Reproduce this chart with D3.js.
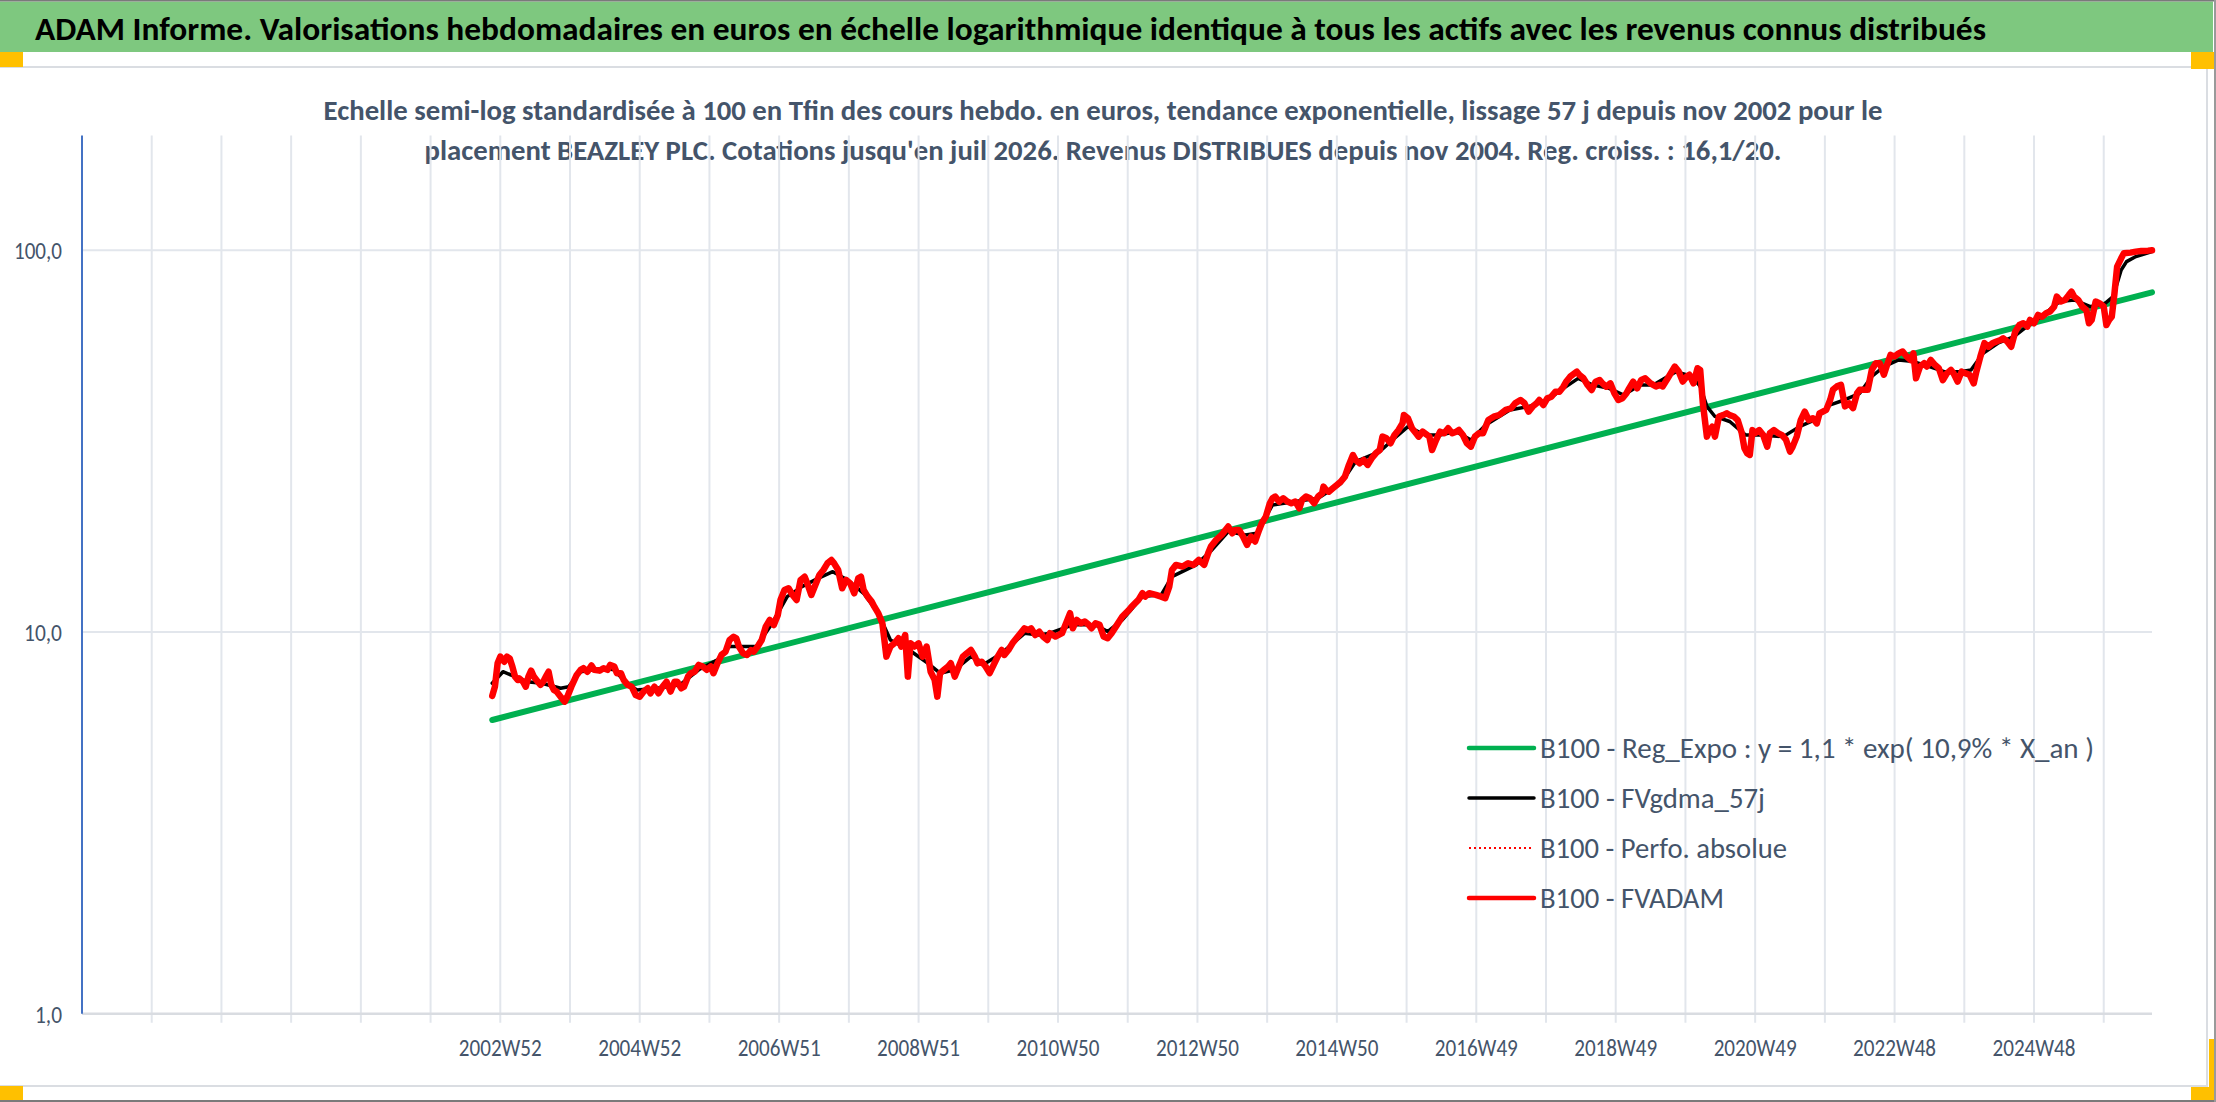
<!DOCTYPE html>
<html>
<head>
<meta charset="utf-8">
<script src="https://cdn.jsdelivr.net/npm/d3@7"></script>
<style>
  body { margin: 0; background: #fff; }
  svg { display: block; }
</style>
</head>
<body>
<script>
// ---- texts ----
const titleText = "ADAM Informe. Valorisations hebdomadaires en euros en échelle logarithmique identique à tous les actifs avec les revenus connus distribués";
const subtitleLines = [
  "Echelle semi-log standardisée à 100 en Tfin des cours hebdo. en euros, tendance exponentielle, lissage 57 j depuis nov 2002 pour le",
  "placement BEAZLEY PLC. Cotations jusqu'en juil 2026. Revenus DISTRIBUES depuis nov 2004. Reg. croiss. : 16,1/20."
];
const legendLabels = [
  "B100 - Reg_Expo : y = 1,1 * exp( 10,9% *  X_an )",
  "B100 - FVgdma_57j",
  "B100 - Perfo. absolue",
  "B100 - FVADAM"
];

// ---- axes ----
// categories are weeks, counted from the first category of the axis
const totalWeeks = 1544;
const weeksPerGrid = 52;
const firstLabelWeek = 312;
const weeksPerLabel = 104;
const xTickLabels = ["2002W52", "2004W52", "2006W51", "2008W51", "2010W50", "2012W50",
  "2014W50", "2016W49", "2018W49", "2020W49", "2022W48", "2024W48"];
const yTicks = [1, 10, 100];
const yTickLabels = ["1,0", "10,0", "100,0"];
const yMax = 200;

// ---- series ----
const regWeeks = [306, 1544];
const regValues = [5.88, 77.6];

const fvWeeks = [306, 308, 310, 312, 315, 317, 319, 321, 323, 325, 326, 329, 331, 333, 335, 337, 340, 342, 344, 346,
  348, 350, 352, 354, 357, 360, 362, 365, 369, 372, 374, 377, 380, 382, 386, 389, 392, 394, 397, 399,
  402, 404, 407, 410, 413, 416, 419, 422, 424, 427, 430, 433, 436, 439, 442, 444, 447, 449, 452, 454,
  457, 460, 463, 466, 469, 471, 474, 477, 480, 483, 486, 488, 490, 493, 496, 499, 501, 504, 507, 510,
  513, 516, 519, 521, 524, 527, 530, 533, 536, 539, 541, 544, 547, 550, 553, 556, 559, 561, 564, 567,
  570, 573, 576, 579, 581, 583, 586, 589, 591, 594, 597, 600, 603, 606, 609, 611, 614, 616, 618, 621,
  624, 627, 630, 633, 636, 638, 640, 643, 646, 648, 651, 654, 657, 660, 663, 666, 668, 671, 674, 677,
  680, 683, 686, 688, 691, 694, 697, 700, 703, 706, 708, 711, 714, 717, 720, 722, 726, 731, 735, 737,
  739, 742, 745, 748, 751, 753, 756, 759, 762, 765, 768, 772, 776, 781, 783, 788, 791, 793, 796, 801,
  805, 808, 811, 813, 816, 821, 825, 829, 833, 837, 840, 842, 846, 850, 855, 858, 860, 863, 866, 869,
  872, 875, 878, 880, 883, 886, 888, 890, 893, 896, 899, 902, 905, 908, 910, 913, 916, 919, 922, 925,
  926, 928, 930, 933, 936, 939, 942, 945, 948, 950, 953, 956, 959, 962, 965, 968, 970, 973, 976, 979,
  982, 985, 986, 989, 992, 995, 997, 1000, 1005, 1007, 1010, 1013, 1016, 1019, 1022, 1025, 1027, 1030, 1033, 1036,
  1039, 1042, 1045, 1049, 1053, 1057, 1062, 1066, 1069, 1073, 1076, 1079, 1082, 1085, 1087, 1090, 1093, 1096, 1099, 1102,
  1105, 1107, 1110, 1115, 1117, 1120, 1123, 1126, 1129, 1132, 1134, 1137, 1140, 1143, 1146, 1149, 1152, 1154, 1157, 1160,
  1163, 1166, 1170, 1172, 1174, 1177, 1179, 1182, 1185, 1188, 1191, 1194, 1197, 1199, 1202, 1205, 1207, 1209, 1212, 1214,
  1216, 1218, 1221, 1224, 1227, 1229, 1232, 1235, 1238, 1240, 1242, 1244, 1246, 1248, 1251, 1254, 1257, 1259, 1262, 1265,
  1268, 1271, 1274, 1276, 1279, 1282, 1285, 1288, 1291, 1294, 1296, 1301, 1304, 1306, 1309, 1312, 1315, 1318, 1321, 1324,
  1326, 1329, 1332, 1335, 1338, 1341, 1344, 1346, 1349, 1352, 1355, 1358, 1361, 1364, 1366, 1368, 1371, 1374, 1376, 1379,
  1382, 1385, 1388, 1391, 1394, 1396, 1399, 1402, 1405, 1408, 1411, 1413, 1416, 1419, 1422, 1425, 1428, 1431, 1433, 1436,
  1439, 1442, 1445, 1448, 1451, 1453, 1456, 1459, 1462, 1465, 1468, 1471, 1473, 1476, 1479, 1482, 1484, 1486, 1489, 1492,
  1495, 1497, 1499, 1502, 1505, 1508, 1510, 1512, 1514, 1516, 1518, 1521, 1523, 1528, 1532, 1536, 1541, 1544];
const fvValues = [6.80, 7.19, 8.28, 8.62, 8.36, 8.62, 8.53, 8.12, 7.64, 7.49, 7.56, 7.41, 7.19, 7.64, 7.92, 7.64, 7.41, 7.27, 7.41, 7.64,
  7.87, 7.27, 7.05, 6.98, 6.77, 6.57, 6.77, 7.19, 7.72, 7.96, 8.04, 7.87, 8.17, 7.96, 7.92, 8.04, 7.96, 8.20, 8.12, 7.80,
  7.80, 7.49, 7.27, 7.19, 6.84, 6.77, 6.98, 7.12, 6.91, 7.19, 6.91, 7.19, 7.41, 6.98, 7.41, 7.41, 7.12, 7.19, 7.64, 7.80,
  7.87, 8.20, 8.12, 7.96, 8.12, 7.80, 8.28, 8.71, 8.88, 9.53, 9.72, 9.63, 9.16, 8.80, 8.71, 8.97, 8.88, 9.16, 9.53, 10.33,
  10.75, 10.43, 11.08, 12.13, 12.89, 13.02, 12.50, 12.13, 13.69, 13.96, 13.41, 12.50, 13.28, 14.11, 14.54, 15.13, 15.44, 15.13, 14.54, 13.02,
  13.69, 13.41, 12.63, 13.82, 13.96, 12.89, 12.38, 12.01, 11.65, 11.19, 10.54, 8.62, 9.16, 9.34, 9.63, 9.16, 9.82, 7.64, 9.34, 9.16,
  9.34, 8.62, 9.16, 7.87, 7.49, 6.77, 7.80, 7.96, 8.12, 8.28, 7.64, 8.12, 8.62, 8.80, 8.97, 8.62, 8.28, 8.36, 8.12, 7.80,
  8.20, 8.62, 8.97, 8.71, 8.97, 9.34, 9.63, 9.92, 10.22, 10.12, 10.22, 9.82, 10.02, 9.72, 9.53, 9.93, 9.73, 9.93, 10.76, 11.20,
  10.23, 10.76, 10.54, 10.65, 10.44, 10.23, 10.54, 10.44, 9.73, 9.63, 9.93, 10.44, 10.98, 11.43, 11.66, 12.14, 12.64, 12.38, 12.64, 12.51,
  12.38, 12.26, 13.15, 14.54, 14.99, 14.84, 15.14, 14.99, 15.45, 14.99, 16.08, 16.74, 17.43, 17.96, 18.89, 18.14, 18.51, 18.51, 17.78, 16.91,
  17.78, 17.26, 18.51, 19.27, 20.06, 21.74, 22.40, 22.63, 21.96, 22.40, 21.96, 21.74, 21.96, 21.09, 22.18, 22.63, 22.40, 21.74, 22.63, 23.09,
  24.04, 23.56, 23.32, 23.80, 24.28, 24.78, 25.53, 27.40, 29.09, 28.23, 27.67, 28.23, 27.40, 28.51, 29.38, 29.98, 32.50, 32.17, 31.22, 32.82,
  33.83, 35.22, 37.03, 36.30, 34.17, 33.16, 32.50, 33.49, 32.50, 29.98, 31.85, 33.49, 33.16, 34.17, 33.16, 33.49, 33.83, 32.82, 31.22, 30.59,
  32.50, 33.16, 33.16, 35.93, 36.66, 37.03, 38.17, 38.56, 39.73, 40.54, 39.73, 37.79, 38.95, 39.73, 40.54, 39.34, 40.95, 41.36, 42.62, 42.62,
  43.93, 45.27, 46.66, 48.09, 47.13, 46.19, 44.37, 43.05, 45.27, 45.73, 44.82, 43.93, 44.82, 42.20, 40.54, 40.95, 42.20, 43.49, 45.27, 43.49,
  45.73, 46.19, 44.82, 44.4, 44.0, 44.4, 44.0, 45.7, 47.6, 49.6, 48.1, 45.3, 46.7, 47.2, 44.8, 49.1, 48.6, 39.7, 32.5, 33.8,
  34.5, 32.5, 36.7, 37.0, 37.4, 37.0, 36.7, 35.9, 33.2, 30.3, 29.4, 29.1, 33.8, 33.2, 33.8, 32.8, 30.6, 33.2, 33.8, 33.2,
  32.8, 31.9, 29.7, 30.6, 32.5, 35.9, 37.8, 35.9, 36.3, 35.2, 37.4, 38.2, 40.6, 43.1, 44.0, 44.4, 39.0, 39.7, 38.6, 42.2,
  43.1, 43.1, 43.1, 48.6, 50.6, 50.6, 47.2, 49.6, 53.2, 52.7, 53.7, 54.3, 52.7, 51.6, 53.7, 46.2, 49.6, 50.6, 49.6, 51.6,
  50.1, 49.1, 45.7, 47.6, 48.6, 47.6, 45.3, 48.1, 47.6, 47.2, 44.8, 48.1, 52.7, 57.1, 55.9, 57.1, 57.7, 58.2, 58.8, 57.7,
  55.9, 61.2, 63.7, 64.4, 63.1, 65.7, 64.4, 67.7, 67.0, 68.4, 69.1, 71.2, 75.6, 73.4, 74.1, 76.4, 77.9, 75.6, 74.1, 71.2,
  69.8, 64.4, 65.7, 73.4, 72.6, 71.2, 63.7, 65.7, 67.0, 77.1, 90.6, 95.3, 98.2, 98.6, 99.2, 99.6, 99.8, 100.0];

const smoothWeeks = [306, 314, 323, 332, 343, 357, 363, 372, 389, 397, 406, 414, 429, 446, 460, 474, 483, 491, 503, 514,
  526, 537, 549, 560, 571, 583, 594, 603, 617, 631, 640, 651, 663, 674, 686, 703, 714, 722, 739, 756,
  765, 776, 791, 805, 813, 831, 842, 855, 868, 876, 888, 905, 922, 939, 950, 968, 979, 989, 1002, 1013,
  1025, 1036, 1047, 1065, 1079, 1093, 1105, 1116, 1127, 1139, 1150, 1162, 1172, 1189, 1201, 1207, 1212, 1218, 1229, 1241,
  1252, 1269, 1281, 1292, 1304, 1315, 1326, 1335, 1344, 1355, 1366, 1378, 1389, 1401, 1409, 1418, 1429, 1441, 1452, 1463,
  1475, 1486, 1498, 1509, 1515, 1521, 1525, 1532, 1544];
const smoothValues = [7.34, 7.87, 7.64, 7.41, 7.34, 7.12, 7.19, 7.87, 8.04, 7.96, 7.34, 7.05, 7.12, 7.27, 7.96, 8.45, 9.16, 9.16, 9.16, 10.43,
  12.38, 13.15, 13.82, 14.39, 13.69, 12.63, 11.19, 9.53, 8.97, 8.28, 7.80, 7.96, 8.62, 8.28, 8.80, 9.92, 9.82, 9.93, 10.44, 10.44,
  10.03, 10.76, 12.38, 12.51, 13.97, 14.99, 16.3, 18.33, 17.96, 18.14, 21.52, 21.96, 22.40, 24.5, 27.95, 29.7, 32.17, 34.51, 32.82, 32.82,
  33.49, 31.85, 34.86, 38.17, 38.95, 40.54, 43.49, 46.19, 44.37, 43.49, 41.78, 44.37, 44.4, 48.1, 46.7, 44.0, 39.0, 36.7, 35.6, 32.8,
  32.8, 32.5, 34.5, 35.9, 39.35, 40.6, 42.2, 46.7, 49.6, 51.6, 51.1, 49.6, 48.1, 48.1, 48.6, 53.7, 57.1, 59.4, 63.7, 67.7,
  73.4, 74.1, 71.2, 72.6, 75.6, 88.8, 93.4, 96.3, 99.2];

// ---- page ----
const W = 2216, H = 1102;
const FONT = "Carlito, Lato, 'Open Sans', sans-serif";
const TXT = "#44546A";

const svg = d3.select('body').append('svg')
  .attr('width', W).attr('height', H)
  .style('font-family', FONT);

svg.append('rect').attr('width', W).attr('height', H).attr('fill', '#fff');

// banner + sheet frame
svg.append('rect').attr('x', 0).attr('y', 1.5).attr('width', 2213).attr('height', 50.5).attr('fill', '#7EC87F');
svg.append('rect').attr('x', 0).attr('y', 0).attr('width', W).attr('height', 1.5).attr('fill', '#7a7a7a');
svg.append('rect').attr('x', 0).attr('y', 1100).attr('width', W).attr('height', 2).attr('fill', '#7a7a7a');
svg.append('rect').attr('x', 2214).attr('y', 0).attr('width', 2).attr('height', H).attr('fill', '#9a9a9a');

svg.append('rect')
  .attr('x', -2).attr('y', 67).attr('width', 2209).attr('height', 1019)
  .attr('fill', '#fff').attr('stroke', '#DADDE2').attr('stroke-width', 2);

const handles = [[0, 52, 23, 15], [2191, 52, 23, 17], [0, 1086, 23, 14], [2191, 1087, 23, 13], [2209, 1039, 5, 61]];
svg.selectAll('rect.handle').data(handles).join('rect')
  .attr('class', 'handle')
  .attr('x', d => d[0]).attr('y', d => d[1]).attr('width', d => d[2]).attr('height', d => d[3])
  .attr('fill', '#FFC000');

svg.append('text')
  .attr('x', 35).attr('y', 40)
  .attr('font-size', 33).attr('font-weight', 700).attr('fill', '#000')
  .attr('textLength', 1951).attr('lengthAdjust', 'spacingAndGlyphs')
  .text(titleText);

const subWidths = [1559, 1357];
svg.selectAll('text.sub').data(subtitleLines).join('text')
  .attr('class', 'sub')
  .attr('x', 1103).attr('y', (d, i) => 120 + i * 39.5)
  .attr('text-anchor', 'middle')
  .attr('font-size', 29).attr('font-weight', 700).attr('fill', TXT)
  .attr('textLength', (d, i) => subWidths[i]).attr('lengthAdjust', 'spacingAndGlyphs')
  .text(d => d);

// ---- scales ----
const plot = { left: 82, right: 2152, top: 135.4, bottom: 1013.7 };
const x = d3.scaleLinear().domain([0, totalWeeks]).range([plot.left, plot.right]);
const y = d3.scaleLog().domain([1, yMax]).range([plot.bottom, plot.top]);

const gridColor = '#E2E6EC';
const gridWeeks = d3.range(weeksPerGrid, totalWeeks, weeksPerGrid);

svg.append('g').selectAll('line').data(gridWeeks).join('line')
  .attr('x1', d => x(d)).attr('x2', d => x(d))
  .attr('y1', plot.top).attr('y2', plot.bottom + 9)
  .attr('stroke', gridColor).attr('stroke-width', 2);

svg.append('g').selectAll('line').data(yTicks.slice(1)).join('line')
  .attr('x1', plot.left).attr('x2', plot.right)
  .attr('y1', d => y(d)).attr('y2', d => y(d))
  .attr('stroke', gridColor).attr('stroke-width', 2);

// category axis line (at 1,0)
svg.append('line')
  .attr('x1', plot.left).attr('x2', plot.right)
  .attr('y1', plot.bottom).attr('y2', plot.bottom)
  .attr('stroke', '#D9DCE1').attr('stroke-width', 2.5);

// value axis line
svg.append('line')
  .attr('x1', plot.left).attr('x2', plot.left)
  .attr('y1', plot.top).attr('y2', plot.bottom)
  .attr('stroke', '#4472C4').attr('stroke-width', 2);

svg.append('g').selectAll('text').data(yTicks).join('text')
  .attr('x', 62).attr('y', d => y(d) + 9)
  .attr('text-anchor', 'end')
  .attr('font-size', 24).attr('fill', TXT)
  .attr('textLength', (d, i) => [27, 38, 48][i]).attr('lengthAdjust', 'spacingAndGlyphs')
  .text((d, i) => yTickLabels[i]);

svg.append('g').selectAll('text').data(xTickLabels).join('text')
  .attr('x', (d, i) => x(firstLabelWeek + i * weeksPerLabel))
  .attr('y', 1056)
  .attr('text-anchor', 'middle')
  .attr('font-size', 24).attr('fill', TXT)
  .attr('textLength', 83).attr('lengthAdjust', 'spacingAndGlyphs')
  .text(d => d);

// ---- series ----
const zip = (ws, vs) => ws.map((w, i) => [w, vs[i]]);
const line = d3.line().x(d => x(d[0])).y(d => y(d[1]));

const series = [
  { data: zip(regWeeks, regValues), color: '#00B050', width: 6, dash: null },
  { data: zip(fvWeeks, fvValues), color: '#FF0000', width: 2, dash: '2,3' },
  { data: zip(smoothWeeks, smoothValues), color: '#000000', width: 3.5, dash: null },
  { data: zip(fvWeeks, fvValues), color: '#FF0000', width: 6.5, dash: null }
];

svg.append('g').selectAll('path').data(series).join('path')
  .attr('d', d => line(d.data))
  .attr('fill', 'none')
  .attr('stroke', d => d.color)
  .attr('stroke-width', d => d.width)
  .attr('stroke-dasharray', d => d.dash)
  .attr('stroke-linejoin', 'round')
  .attr('stroke-linecap', 'round');

// ---- legend ----
const legendWidths = [554, 225, 247, 184];
const legendItems = [series[0], series[2], series[1], series[3]];
const lg = svg.append('g').attr('transform', 'translate(1469,748)');
const rows = lg.selectAll('g').data(legendItems).join('g')
  .attr('transform', (d, i) => `translate(0,${i * 50})`);
rows.append('line')
  .attr('x1', 0).attr('x2', 65).attr('y1', 0).attr('y2', 0)
  .attr('stroke', d => d.color)
  .attr('stroke-width', d => d.dash ? 2 : Math.min(d.width, 4.5))
  .attr('stroke-dasharray', d => d.dash)
  .attr('stroke-linecap', d => d.dash ? 'butt' : 'round');
rows.append('text')
  .attr('x', 71).attr('y', 10)
  .attr('font-size', 29).attr('fill', TXT)
  .attr('textLength', (d, i) => legendWidths[i]).attr('lengthAdjust', 'spacingAndGlyphs')
  .text((d, i) => legendLabels[i]);
</script>
</body>
</html>
